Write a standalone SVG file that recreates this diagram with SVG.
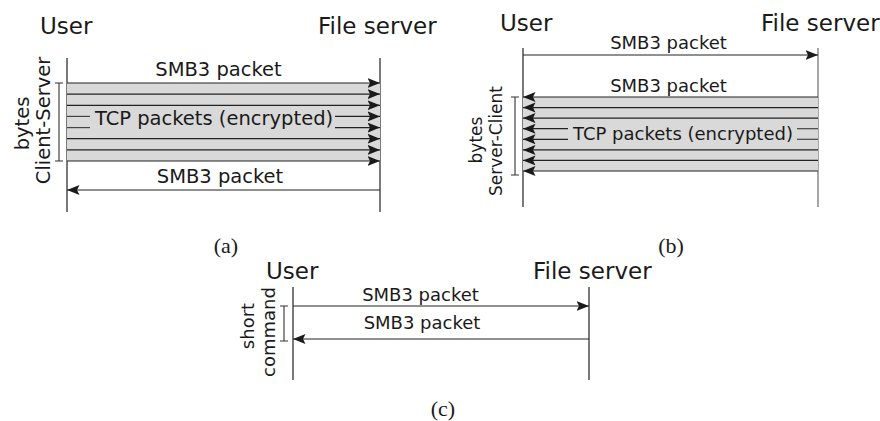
<svg xmlns="http://www.w3.org/2000/svg" width="880" height="421" viewBox="0 0 880 421">
<style>
text{font-family:"DejaVu Sans","Noto Sans",sans-serif;fill:#1a1a1a}
.hdr{font-size:23px}
.lbl{font-size:19.5px}
.lbl2{font-size:18px}
.cap{font-family:"Liberation Serif","DejaVu Serif",serif;font-size:22px}
.life{stroke:#333;stroke-width:1.3;fill:none}
.lifeg{stroke:#888;stroke-width:1.5;fill:none}
.msg{stroke:#222;stroke-width:1.2;fill:none;marker-end:url(#ah)}
.seg{stroke:#444;stroke-width:1.2;fill:none}
.shade{fill:#d9d9d9;stroke:none}
.brk{stroke:#333;stroke-width:1.1;fill:none}
</style>
<defs>
<marker id="ah" markerUnits="userSpaceOnUse" markerWidth="15" markerHeight="11" refX="12.5" refY="5" orient="auto">
<path d="M0,0 L12.5,5 L0,10 L2.5,5 z" fill="#1a1a1a"/>
</marker>
</defs>

<g id="panel-a">
<g id="a-user"><text class="hdr" x="40" y="34">User</text><line class="life" x1="67" y1="58" x2="67" y2="212"/></g>
<g id="a-server"><text class="hdr" x="318" y="34">File server</text><line class="life" x1="380" y1="58" x2="380" y2="212"/></g>
<rect class="shade" x="67" y="83" width="313" height="78"/>
<g id="a-connectors">
<line class="msg" x1="67" y1="83" x2="380" y2="83"/>
<line class="msg" x1="67" y1="94.1" x2="380" y2="94.1"/>
<line class="msg" x1="67" y1="105.3" x2="380" y2="105.3"/>
<line class="seg" x1="67" y1="116.4" x2="90" y2="116.4"/>
<line class="msg" x1="335" y1="116.4" x2="380" y2="116.4"/>
<line class="seg" x1="67" y1="127.6" x2="90" y2="127.6"/>
<line class="msg" x1="335" y1="127.6" x2="380" y2="127.6"/>
<line class="msg" x1="67" y1="138.7" x2="380" y2="138.7"/>
<line class="msg" x1="67" y1="149.9" x2="380" y2="149.9"/>
<line class="msg" x1="67" y1="161" x2="380" y2="161"/>
<line class="msg" x1="380" y1="190" x2="67" y2="190"/>
</g>
<text class="lbl" x="218.5" y="76" text-anchor="middle">SMB3 packet</text>
<text class="lbl" x="214" y="125" text-anchor="middle">TCP packets (encrypted)</text>
<text class="lbl" x="220" y="183" text-anchor="middle">SMB3 packet</text>
<path class="brk" d="M59,83 V161 M55,83 H63 M55,161 H63"/>
<text class="lbl" transform="translate(29,123.5) rotate(-90)" text-anchor="middle">bytes</text>
<text class="lbl" transform="translate(50,120.5) rotate(-90)" text-anchor="middle">Client-Server</text>
<text class="cap" x="226" y="253" text-anchor="middle">(a)</text>
</g>

<g id="panel-b">
<g id="b-user"><text class="hdr" x="500" y="31">User</text><line class="life" x1="523" y1="48" x2="523" y2="207"/></g>
<g id="b-server"><text class="hdr" x="761" y="31">File server</text><line class="lifeg" x1="818" y1="48" x2="818" y2="207"/></g>
<rect class="shade" x="523" y="97" width="295" height="74"/>
<g id="b-connectors">
<line class="msg" x1="523" y1="55" x2="818" y2="55"/>
<line class="msg" x1="818" y1="97" x2="523" y2="97"/>
<line class="msg" x1="818" y1="107.6" x2="523" y2="107.6"/>
<line class="msg" x1="818" y1="118.1" x2="523" y2="118.1"/>
<line class="msg" x1="568" y1="128.7" x2="523" y2="128.7"/>
<line class="seg" x1="797" y1="128.7" x2="818" y2="128.7"/>
<line class="msg" x1="568" y1="139.3" x2="523" y2="139.3"/>
<line class="seg" x1="797" y1="139.3" x2="818" y2="139.3"/>
<line class="msg" x1="818" y1="149.9" x2="523" y2="149.9"/>
<line class="msg" x1="818" y1="160.4" x2="523" y2="160.4"/>
<line class="msg" x1="818" y1="171" x2="523" y2="171"/>
</g>
<text class="lbl2" x="668.5" y="49" text-anchor="middle">SMB3 packet</text>
<text class="lbl2" x="668.5" y="92" text-anchor="middle">SMB3 packet</text>
<text class="lbl2" x="683" y="140" text-anchor="middle">TCP packets (encrypted)</text>
<path class="brk" d="M515,97 V175 M511,97 H519 M511,175 H519"/>
<text class="lbl2" style="font-size:17px" transform="translate(482,140) rotate(-90)" text-anchor="middle">bytes</text>
<text class="lbl2" style="font-size:17px" transform="translate(502,141) rotate(-90)" text-anchor="middle">Server-Client</text>
<text class="cap" x="671" y="253" text-anchor="middle">(b)</text>
</g>

<g id="panel-c">
<g id="c-user"><text class="hdr" x="266" y="279">User</text><line class="life" x1="293" y1="287" x2="293" y2="380"/></g>
<g id="c-server"><text class="hdr" x="533" y="279">File server</text><line class="life" x1="589" y1="287" x2="589" y2="380"/></g>
<g id="c-connectors">
<line class="msg" x1="293" y1="306" x2="589" y2="306"/>
<line class="msg" x1="589" y1="339" x2="293" y2="339"/>
</g>
<text class="lbl2" x="420.5" y="301" text-anchor="middle">SMB3 packet</text>
<text class="lbl2" x="422" y="329" text-anchor="middle">SMB3 packet</text>
<path class="brk" d="M284,306 V341 M280,306 H288 M280,341 H288"/>
<text class="lbl2" transform="translate(254,326) rotate(-90)" text-anchor="middle">short</text>
<text class="lbl2" transform="translate(275,332) rotate(-90)" text-anchor="middle">command</text>
<text class="cap" x="443" y="416" text-anchor="middle">(c)</text>
</g>
</svg>
